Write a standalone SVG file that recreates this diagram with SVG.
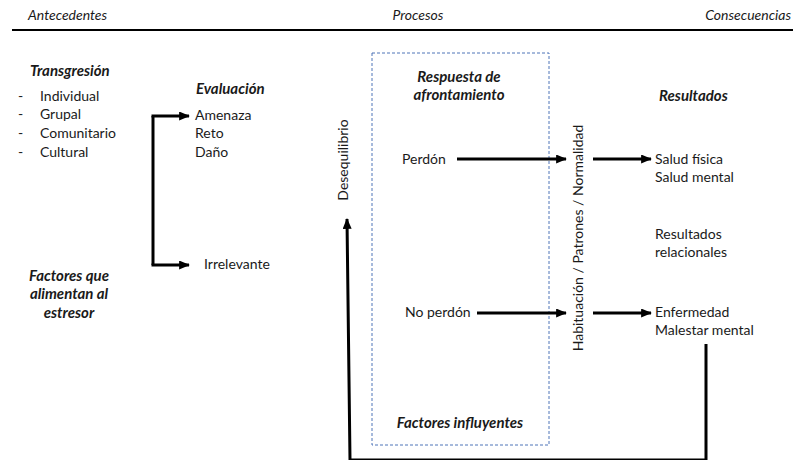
<svg xmlns="http://www.w3.org/2000/svg" width="793" height="460" viewBox="0 0 793 460">
<style>
text{font-family:Lato,"Open Sans","Liberation Sans",sans-serif;font-size:14px;fill:#1a1a1a}
.it{font-style:italic}
.bi{font-style:italic;font-weight:bold;font-size:15px}
.ln{stroke:#000;stroke-width:3;fill:none}
</style>
<defs>
<marker id="ah" viewBox="0 0 12 10" refX="11" refY="5" markerWidth="4" markerHeight="3" orient="auto" markerUnits="strokeWidth">
<path d="M0,0 L12,5 L0,10 z" fill="#000"/>
</marker>
</defs>
<rect width="793" height="460" fill="#fff"/>
<g id="header">
<text x="28" y="20" class="it">Antecedentes</text>
<text x="418" y="20" class="it" text-anchor="middle">Procesos</text>
<text x="791" y="20" class="it" text-anchor="end">Consecuencias</text>
<line x1="12" y1="30" x2="793" y2="30" stroke="#000" stroke-width="2"/>
</g>
<g id="transgresion">
<text x="30" y="76" class="bi">Transgresión</text>
<text x="18" y="101">-</text><text x="40" y="101">Individual</text>
<text x="18" y="119">-</text><text x="40" y="119">Grupal</text>
<text x="18" y="138">-</text><text x="40" y="138">Comunitario</text>
<text x="18" y="157">-</text><text x="40" y="157">Cultural</text>
</g>
<g id="factores-estresor">
<text x="69" y="281" class="bi" text-anchor="middle">Factores que</text>
<text x="69" y="299" class="bi" text-anchor="middle">alimentan al</text>
<text x="69" y="318" class="bi" text-anchor="middle">estresor</text>
</g>
<g id="evaluacion">
<text x="196" y="94" class="bi">Evaluación</text>
<text x="195" y="120">Amenaza</text>
<text x="195" y="138">Reto</text>
<text x="195" y="157">Daño</text>
</g>
<g id="irrelevante">
<text x="204" y="269">Irrelevante</text>
</g>
<g id="desequilibrio">
<text transform="translate(348,160) rotate(-90)" text-anchor="middle">Desequilibrio</text>
</g>
<g id="procesos-box">
<rect x="372" y="53" width="177" height="392" fill="none" stroke="#4f74b8" stroke-width="1" stroke-dasharray="3,2"/>
<text x="459" y="82" class="bi" text-anchor="middle">Respuesta de</text>
<text x="459" y="100" class="bi" text-anchor="middle">afrontamiento</text>
<text x="460" y="428" class="bi" text-anchor="middle">Factores influyentes</text>
</g>
<g id="perdon"><text x="402" y="164">Perdón</text></g>
<g id="no-perdon"><text x="405" y="317">No perdón</text></g>
<g id="habituacion">
<text transform="translate(583,238) rotate(-90)" text-anchor="middle">Habituación / Patrones / Normalidad</text>
</g>
<g id="resultados">
<text x="659" y="101" class="bi">Resultados</text>
<text x="655" y="164">Salud física</text>
<text x="655" y="182">Salud mental</text>
<text x="655" y="239">Resultados</text>
<text x="655" y="257">relacionales</text>
<text x="655" y="317">Enfermedad</text>
<text x="655" y="335">Malestar mental</text>
</g>
<g id="connectors">
<path class="ln" d="M153,116 V265"/>
<path class="ln" d="M151.5,116 H189" marker-end="url(#ah)"/>
<path class="ln" d="M151.5,265 H189" marker-end="url(#ah)"/>
<path class="ln" d="M457,159 H566" marker-end="url(#ah)"/>
<path class="ln" d="M593,159 H651" marker-end="url(#ah)"/>
<path class="ln" d="M477,313 H566" marker-end="url(#ah)"/>
<path class="ln" d="M593,313 H651" marker-end="url(#ah)"/>
<path class="ln" d="M706,344 V460 H350 L347,219" marker-end="url(#ah)"/>
</g>
</svg>
